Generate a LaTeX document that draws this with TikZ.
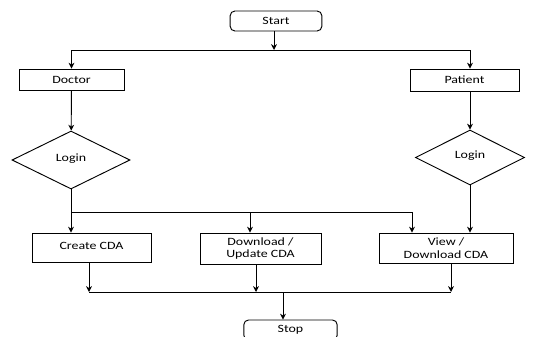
\documentclass[tikz,border=0pt]{standalone}
\usepackage{fontspec}
\setmainfont{Carlito}[FakeStretch=1.25]
\usepackage{tikz}
\usetikzlibrary{shapes,arrows,arrows.meta,positioning,calc}

\begin{document}
\begin{tikzpicture}[x=0.03cm, y=-0.03cm, >={Stealth[length=5pt,width=5pt]}, line width=0.8pt,
  box/.style={draw, rectangle, font=\fontsize{9.5}{11}\selectfont, align=center, inner sep=1pt},
  term/.style={box, rounded corners=4pt, minimum width=2.75cm, minimum height=0.6cm},
  decide/.style={draw, diamond, font=\fontsize{9.5}{11}\selectfont, inner sep=0pt}]
\clip (0,0) rectangle (533,337);
\node[term] (start) at (276,21) {Start};
\node[box, minimum width=3.15cm, minimum height=0.63cm] (doctor) at (71.5,79.5) {Doctor};
\node[box, minimum width=3.27cm, minimum height=0.66cm] (patient) at (464.5,80) {Patient};
\node[decide, minimum width=3.54cm, minimum height=1.74cm] (login1) at (71,160) {\raisebox{4pt}{Login}};
\node[decide, minimum width=3.27cm, minimum height=1.65cm] (login2) at (470,157.5) {\raisebox{4pt}{Login}};
\node[box, minimum width=3.57cm, minimum height=0.87cm] (create) at (91.5,247.5) {\raisebox{3pt}{Create CDA}};
\node[box, minimum width=3.63cm, minimum height=0.93cm] (download) at (260.5,248.5) {Download /\\ Update CDA};
\node[box, minimum width=4.02cm, minimum height=0.9cm] (view) at (446,248) {View /\\ Download CDA};
\node[term, minimum width=2.8cm] (stop) at (290.5,330) {Stop};
% junctions
\coordinate (split) at (274,50);
\coordinate (j1) at (71,212);
\coordinate (j2) at (250,212);
\coordinate (j3) at (412,212);
\coordinate (m1) at (89,292);
\coordinate (m2) at (256,292);
\coordinate (m3) at (451,292);
\coordinate (mid) at (283,292);
\draw[->] (start.south -| split) -- (split);
\draw (doctor.north |- split) -- (login2.north |- split);
\draw[->] (doctor.north |- split) -- (doctor.north);
\draw[->] (login2.north |- split) -- (patient.north -| login2);
\draw[->] (doctor) -- (login1);
\draw[->] (patient.south -| login2) -- (login2);
\draw[->] (login1) -- (create.north -| login1);
\draw (j1) -- (j3);
\draw[->] (j2) -- (download.north -| j2);
\draw[->] (j3) -- (view.north -| j3);
\draw[->] (login2) -- (view.north -| login2);
\draw[->] (create.south -| m1) -- (m1);
\draw[->] (download.south -| m2) -- (m2);
\draw[->] (view.south -| m3) -- (m3);
\draw (m1) -- (m3);
\draw[->] (mid) -- (stop.north -| mid);
\end{tikzpicture}
\end{document}
